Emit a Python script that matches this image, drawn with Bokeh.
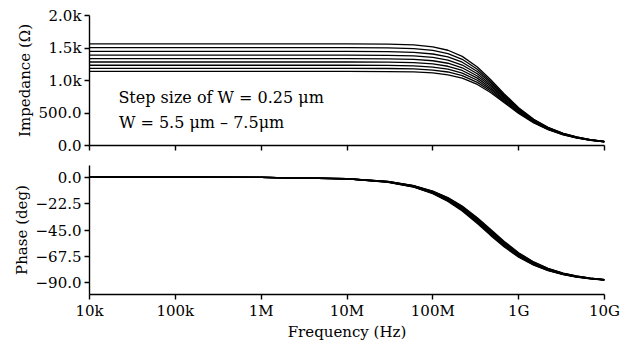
from bokeh.plotting import figure
from bokeh.layouts import column
from bokeh.models import Range1d, FixedTicker, Label, CustomLabelingPolicy
from bokeh.embed import file_html
from bokeh.resources import INLINE

# ---------------- data ----------------
freq_hz = [1e4, 1e5, 1e6, 1e7, 3e7, 6e7, 1e8, 1.5e8, 2.2e8, 3.3e8, 4.7e8,
           6.8e8, 1e9, 1.5e9, 2.2e9, 3.3e9, 4.7e9, 6.8e9, 1e10]

width_um = [5.5, 5.75, 6.0, 6.25, 6.5, 6.75, 7.0, 7.25, 7.5]

imp_w550 = [1565, 1565, 1565, 1564.5, 1560.6, 1547.6, 1518.2, 1465.3, 1371.3, 1207.2, 1014.6, 793.5, 581.2, 403.3, 279.8, 188.3, 132.7, 91.9, 62.6]
imp_w575 = [1505, 1505, 1505, 1504.6, 1501.0, 1489.2, 1462.1, 1413.3, 1326.2, 1172.4, 989.4, 777.2, 570.8, 396.9, 275.9, 185.6, 130.8, 90.6, 61.7]
imp_w600 = [1447, 1447, 1447, 1446.6, 1443.4, 1432.5, 1407.6, 1362.8, 1281.8, 1137.9, 964.3, 760.4, 560.3, 390.1, 271.3, 182.8, 128.8, 89.3, 60.8]
imp_w625 = [1391, 1391, 1391, 1390.6, 1387.7, 1377.6, 1354.8, 1313.4, 1238.3, 1103.5, 939.1, 743.5, 549.4, 383.2, 266.8, 179.7, 126.7, 87.8, 59.8]
imp_w650 = [1337, 1337, 1337, 1336.7, 1333.9, 1324.7, 1303.7, 1265.5, 1195.8, 1069.6, 913.7, 726.3, 538.4, 376.4, 262.2, 176.8, 124.6, 86.4, 58.8]
imp_w675 = [1285, 1285, 1285, 1284.7, 1282.2, 1273.7, 1254.4, 1219.1, 1154.4, 1036.4, 888.8, 709.2, 527.4, 369.3, 257.5, 173.7, 122.5, 84.8, 57.8]
imp_w700 = [1235, 1235, 1235, 1234.7, 1232.4, 1224.6, 1206.8, 1174.1, 1114.1, 1003.4, 864.0, 692.0, 516.1, 362.1, 252.8, 170.6, 120.3, 83.4, 56.8]
imp_w725 = [1187, 1187, 1187, 1186.7, 1184.6, 1177.4, 1161.0, 1130.9, 1075.1, 971.6, 839.3, 674.9, 505.0, 354.9, 248.0, 167.4, 118.1, 81.8, 55.8]
imp_w750 = [1140, 1140, 1140, 1139.8, 1137.7, 1131.2, 1116.1, 1088.1, 1036.4, 939.5, 814.6, 657.4, 493.3, 347.4, 243.0, 164.2, 115.8, 80.3, 54.7]

phase_w550 = [0.0, -0.01, -0.14, -1.43, -4.29, -8.53, -14.04, -20.56, -28.81, -39.52, -49.59, -59.53, -68.20, -75.07, -79.70, -83.09, -85.14, -86.63, -87.71]
phase_w575 = [0.0, -0.01, -0.14, -1.40, -4.19, -8.32, -13.71, -20.10, -28.22, -38.83, -48.90, -58.91, -67.70, -74.71, -79.44, -82.92, -85.01, -86.55, -87.65]
phase_w600 = [0.0, -0.01, -0.14, -1.36, -4.09, -8.13, -13.39, -19.65, -27.65, -38.15, -48.21, -58.30, -67.22, -74.36, -79.19, -82.75, -84.89, -86.46, -87.59]
phase_w625 = [0.0, -0.01, -0.13, -1.33, -3.99, -7.94, -13.09, -19.23, -27.10, -37.50, -47.54, -57.69, -66.73, -74.01, -78.94, -82.57, -84.77, -86.38, -87.54]
phase_w650 = [0.0, -0.01, -0.13, -1.30, -3.90, -7.77, -12.81, -18.82, -26.57, -36.87, -46.89, -57.09, -66.25, -73.65, -78.69, -82.41, -84.65, -86.30, -87.48]
phase_w675 = [0.0, -0.01, -0.13, -1.27, -3.81, -7.59, -12.53, -18.43, -26.05, -36.25, -46.24, -56.51, -65.77, -73.30, -78.44, -82.23, -84.53, -86.21, -87.42]
phase_w700 = [0.0, -0.01, -0.12, -1.25, -3.73, -7.43, -12.26, -18.06, -25.56, -35.65, -45.61, -55.92, -65.30, -72.95, -78.19, -82.06, -84.41, -86.13, -87.37]
phase_w725 = [0.0, -0.01, -0.12, -1.22, -3.65, -7.28, -12.01, -17.70, -25.08, -35.07, -45.00, -55.35, -64.83, -72.60, -77.94, -81.89, -84.29, -86.04, -87.31]
phase_w750 = [0.0, -0.01, -0.12, -1.19, -3.58, -7.13, -11.77, -17.35, -24.62, -34.51, -44.39, -54.78, -64.36, -72.26, -77.69, -81.72, -84.17, -85.96, -87.25]

x_ticks = [1e4, 1e5, 1e6, 1e7, 1e8, 1e9, 1e10]
x_tick_labels = ["10k", "100k", "1M", "10M", "100M", "1G", "10G"]
imp_ticks = [0, 500, 1000, 1500, 2000]
imp_tick_labels = ["0.0", "500.0", "1.0k", "1.5k", "2.0k"]
phase_ticks = [0, -22.5, -45, -67.5, -90]
phase_tick_labels = ["0.0", "\u221222.5", "\u221245.0", "\u221267.5", "\u221290.0"]

imp_series = [imp_w550, imp_w575, imp_w600, imp_w625, imp_w650,
              imp_w675, imp_w700, imp_w725, imp_w750]
phase_series = [phase_w550, phase_w575, phase_w600, phase_w625, phase_w650,
                phase_w675, phase_w700, phase_w725, phase_w750]

FONT = "DejaVu Serif"
FS = "15px"

x_range = Range1d(1e4, 1e10)


def style(p, ylabel, yticks, ylabels, show_x_labels):
    p.grid.visible = False
    p.outline_line_color = None
    p.background_fill_color = "white"
    p.border_fill_color = "white"
    for ax in (p.xaxis[0], p.yaxis[0]):
        ax.axis_line_color = "black"
        ax.axis_line_width = 1.4
        ax.major_tick_line_color = "black"
        ax.major_tick_line_width = 1.4
        ax.major_tick_in = 0
        ax.major_tick_out = 5
        ax.minor_tick_line_color = None
        ax.major_label_text_font = FONT
        ax.major_label_text_font_size = FS
        ax.major_label_text_color = "black"
        ax.axis_label_text_font = FONT
        ax.axis_label_text_font_size = FS
        ax.axis_label_text_font_style = "normal"
        ax.axis_label_text_color = "black"
    xa = p.xaxis[0]
    xa.ticker = FixedTicker(ticks=x_ticks, minor_ticks=[])
    xa.major_label_overrides = {t: s for t, s in zip(x_ticks, x_tick_labels)}
    if show_x_labels:
        xa.major_label_standoff = 2
        xa.axis_label = "Frequency (Hz)"
        xa.axis_label_standoff = 0
    else:
        # ticks only, no labels on the upper panel
        xa.major_label_policy = CustomLabelingPolicy(code="return []")
        xa.major_label_text_font_size = "2px"
        xa.major_label_standoff = 0
    ya = p.yaxis[0]
    ya.ticker = FixedTicker(ticks=yticks, minor_ticks=[])
    ya.major_label_overrides = {t: s for t, s in zip(yticks, ylabels)}
    ya.major_label_standoff = 3
    ya.axis_label = ylabel
    ya.axis_label_standoff = 2


top = figure(width=629, height=165, x_axis_type="log", x_range=x_range,
             y_range=Range1d(0, 2000), output_backend="svg",
             toolbar_location=None, min_border_left=89, min_border_right=25,
             min_border_top=15, min_border_bottom=20)
for ys in imp_series:
    top.line(freq_hz, ys, line_color="black", line_width=1.3)
style(top, "Impedance (\u03a9)", imp_ticks, imp_tick_labels, False)

top.add_layout(Label(x=2.17e4, y=745, text="Step size of  W = 0.25 \u03bcm",
                     text_font=FONT, text_font_size="16px",
                     text_baseline="alphabetic", text_color="black"))
top.add_layout(Label(x=2.2e4, y=360, text="W = 5.5 \u03bcm \u2013 7.5\u03bcm",
                     text_font=FONT, text_font_size="16px",
                     text_baseline="alphabetic", text_color="black"))

bottom = figure(width=629, height=178, x_axis_type="log", x_range=x_range,
                y_range=Range1d(-100, 10), output_backend="svg",
                toolbar_location=None, min_border_left=89, min_border_right=25,
                min_border_top=0, min_border_bottom=48)
for ys in phase_series:
    bottom.line(freq_hz, ys, line_color="black", line_width=1.3)
style(bottom, "Phase (deg)", phase_ticks, phase_tick_labels, True)

layout = column(top, bottom, spacing=0)

open("out.html", "w").write(file_html(layout, INLINE))
